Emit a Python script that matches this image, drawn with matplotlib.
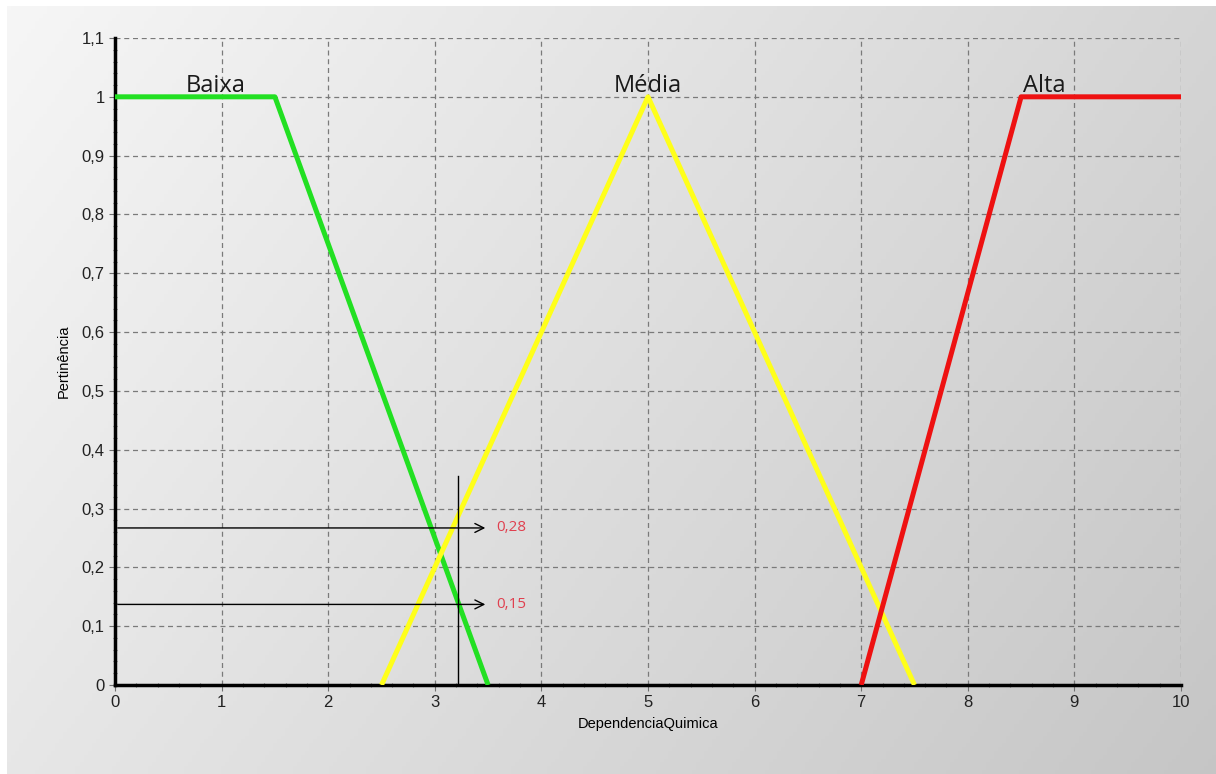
import numpy as np
import matplotlib
matplotlib.use("Agg")
import matplotlib.pyplot as plt
from matplotlib.ticker import MultipleLocator, AutoMinorLocator, FuncFormatter

# membership functions (x, y vertices)
baixa_x = [0, 1.5, 3.5]
baixa_y = [1, 1, 0]
media_x = [2.5, 5, 7.5]
media_y = [0, 1, 0]
alta_x = [7, 8.5, 10]
alta_y = [0, 1, 1]

labels = ["Baixa", "Média", "Alta"]
label_x = [0.94, 5.0, 8.72]

# input value and resulting memberships
input_x = 3.22
marker_top = 0.355
arrow_y = [0.267, 0.137]
arrow_end = 3.5
arrow_text = ["0,28", "0,15"]

fig = plt.figure(figsize=(12.16, 7.74), dpi=100)
fig.patch.set_facecolor("white")

# diagonal gray gradient behind everything (light top-left -> darker bottom-right)
bg = fig.add_axes([7 / 1216, 0, 1 - 7 / 1216, 1 - 6 / 774])
gx, gy = np.meshgrid(np.linspace(0, 1, 300), np.linspace(0, 1, 200))
val = 0.965 - 0.13 * gx - 0.06 * gy
bg.imshow(np.dstack([val, val, val]), aspect="auto", extent=[0, 1, 0, 1], origin="upper")
bg.axis("off")

ax = fig.add_axes([115 / 1216, 89 / 774, 1066 / 1216, 647 / 774])
ax.set_facecolor("none")

ax.plot(baixa_x, baixa_y, color="#22e022", lw=3.6, solid_capstyle="butt", zorder=3)
ax.plot(media_x, media_y, color="#ffff1a", lw=3.6, solid_capstyle="butt", zorder=3)
ax.plot(alta_x, alta_y, color="#ee1111", lw=3.6, solid_capstyle="butt", zorder=3)

for lab, lx in zip(labels, label_x):
    ax.text(lx, 0.998, lab, ha="center", va="bottom", fontsize=17,
            family="Open Sans", color="#1a1a1a", zorder=4)

ax.plot([input_x, input_x], [0, marker_top], color="black", lw=1, zorder=4)
for yv, txt in zip(arrow_y, arrow_text):
    ax.annotate("", xy=(arrow_end, yv), xytext=(0, yv),
                arrowprops=dict(arrowstyle="->", color="black", lw=1,
                                mutation_scale=16), zorder=4)
    ax.text(arrow_end + 0.08, yv, txt, ha="left", va="center", fontsize=11,
            family="Open Sans", color="#e0404f", zorder=4)

ax.set_xlim(0, 10)
ax.set_ylim(0, 1.1)
ax.xaxis.set_major_locator(MultipleLocator(1))
ax.yaxis.set_major_locator(MultipleLocator(0.1))
ax.xaxis.set_minor_locator(AutoMinorLocator(5))
ax.yaxis.set_minor_locator(AutoMinorLocator(5))
ax.yaxis.set_major_formatter(FuncFormatter(lambda v, p: f"{v:.1f}".rstrip("0").rstrip(".").replace(".", ",")))

ax.grid(True, which="major", color="#7a7a7a", linestyle=(0, (4, 3)), lw=0.9)
ax.set_axisbelow(True)
for s in ["top", "right"]:
    ax.spines[s].set_visible(False)
ax.spines["left"].set_linewidth(2.5)
ax.spines["bottom"].set_linewidth(2.5)

ax.tick_params(which="major", length=4, width=0.8, color="#707070",
               labelsize=12, labelcolor="#222222", direction="out")
ax.tick_params(which="minor", length=3, width=0.8, color="#707070", direction="inout")
for t in ax.get_xticklabels() + ax.get_yticklabels():
    t.set_family("Liberation Sans")

ax.set_xlabel("DependenciaQuimica", fontsize=10.5, family="Liberation Sans", labelpad=5)
ax.set_ylabel("Pertinência", fontsize=10.5, family="Liberation Sans", labelpad=8)

fig.savefig("out.png", dpi=100)
